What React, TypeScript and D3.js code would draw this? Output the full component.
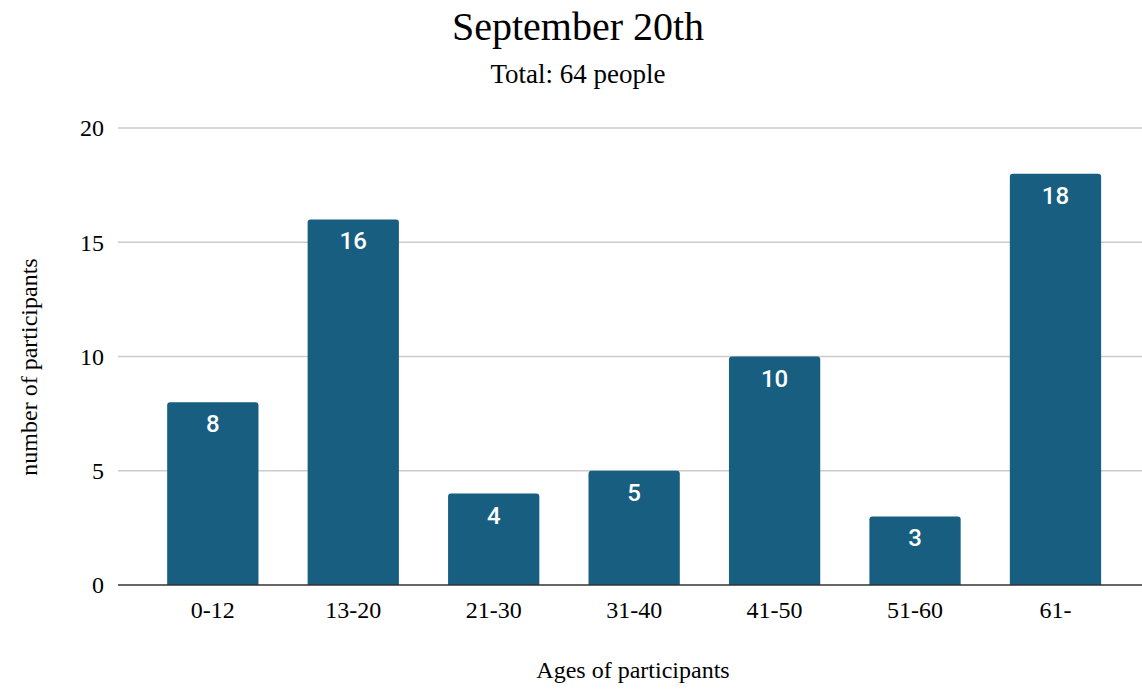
import { useRef, useEffect } from "react";
import * as d3 from "d3";

const categories = ["0-12", "13-20", "21-30", "31-40", "41-50", "51-60", "61-"];
const participants = [8, 16, 4, 5, 10, 3, 18];
const yTicks = [0, 5, 10, 15, 20];

const W = 1142;
const H = 689;

export default function App() {
    const svgRef = useRef<SVGSVGElement>(null);

    useEffect(() => {
        if (!svgRef.current) return;
        const svg = d3.select(svgRef.current);
        svg.selectAll("*").remove();

        const serif = "'Liberation Serif', 'Times New Roman', serif";
        const plotLeft = 118;
        const plotRight = 1142;
        const plotTop = 128;
        const plotBottom = 585;

        const x = d3
            .scaleBand()
            .domain(categories)
            .range([142.6, 1125.7])
            .paddingInner(0.35)
            .paddingOuter(0.175);

        const y = d3.scaleLinear().domain([0, 20]).range([plotBottom, plotTop]);

        // title
        svg.append("text")
            .attr("x", 578)
            .attr("y", 40)
            .attr("text-anchor", "middle")
            .attr("font-family", serif)
            .attr("font-size", 40)
            .attr("fill", "#000")
            .text("September 20th");

        svg.append("text")
            .attr("x", 578)
            .attr("y", 83)
            .attr("text-anchor", "middle")
            .attr("font-family", serif)
            .attr("font-size", 27)
            .attr("fill", "#000")
            .text("Total: 64 people");

        // grid
        svg.append("g")
            .selectAll("line")
            .data(yTicks.filter((t) => t !== 0))
            .join("line")
            .attr("x1", plotLeft)
            .attr("x2", plotRight)
            .attr("y1", (d) => y(d))
            .attr("y2", (d) => y(d))
            .attr("stroke", "#cccccc")
            .attr("stroke-width", 1.5);

        // y tick labels
        svg.append("g")
            .selectAll("text")
            .data(yTicks)
            .join("text")
            .attr("x", 104)
            .attr("y", (d) => y(d))
            .attr("dy", "0.35em")
            .attr("text-anchor", "end")
            .attr("font-family", serif)
            .attr("font-size", 24)
            .attr("fill", "#000")
            .text((d) => d);

        // bars
        const bw = x.bandwidth();
        const r = 3;
        svg.append("g")
            .selectAll("path")
            .data(participants)
            .join("path")
            .attr("d", (d, i) => {
                const x0 = x(categories[i])!;
                const y0 = y(d);
                const y1 = y(0);
                return `M${x0},${y1}V${y0 + r}Q${x0},${y0} ${x0 + r},${y0}H${x0 + bw - r}Q${x0 + bw},${y0} ${x0 + bw},${y0 + r}V${y1}Z`;
            })
            .attr("fill", "#175e80");

        // value labels
        svg.append("g")
            .selectAll("text")
            .data(participants)
            .join("text")
            .attr("x", (_, i) => x(categories[i])! + bw / 2)
            .attr("y", (d) => y(d) + 30)
            .attr("text-anchor", "middle")
            .attr("font-family", "Roboto, sans-serif")
            .attr("font-weight", 500)
            .attr("font-size", 24)
            .attr("fill", "#fff")
            .text((d) => d);

        // x axis baseline
        svg.append("line")
            .attr("x1", plotLeft)
            .attr("x2", plotRight)
            .attr("y1", plotBottom)
            .attr("y2", plotBottom)
            .attr("stroke", "#333")
            .attr("stroke-width", 1.5);

        // x tick labels
        svg.append("g")
            .selectAll("text")
            .data(categories)
            .join("text")
            .attr("x", (d) => x(d)! + bw / 2)
            .attr("y", 618)
            .attr("text-anchor", "middle")
            .attr("font-family", serif)
            .attr("font-size", 24)
            .attr("fill", "#000")
            .text((d) => d);

        // axis titles
        svg.append("text")
            .attr("x", 633)
            .attr("y", 678)
            .attr("text-anchor", "middle")
            .attr("font-family", serif)
            .attr("font-size", 24)
            .attr("fill", "#000")
            .text("Ages of participants");

        svg.append("text")
            .attr("transform", `translate(37,367) rotate(-90)`)
            .attr("text-anchor", "middle")
            .attr("font-family", serif)
            .attr("font-size", 24)
            .attr("fill", "#000")
            .text("number of participants");
    }, []);

    return (
        <svg
            ref={svgRef}
            width={W}
            height={H}
            style={{ position: "absolute", left: 0, top: 0, background: "#fff" }}
        />
    );
}
